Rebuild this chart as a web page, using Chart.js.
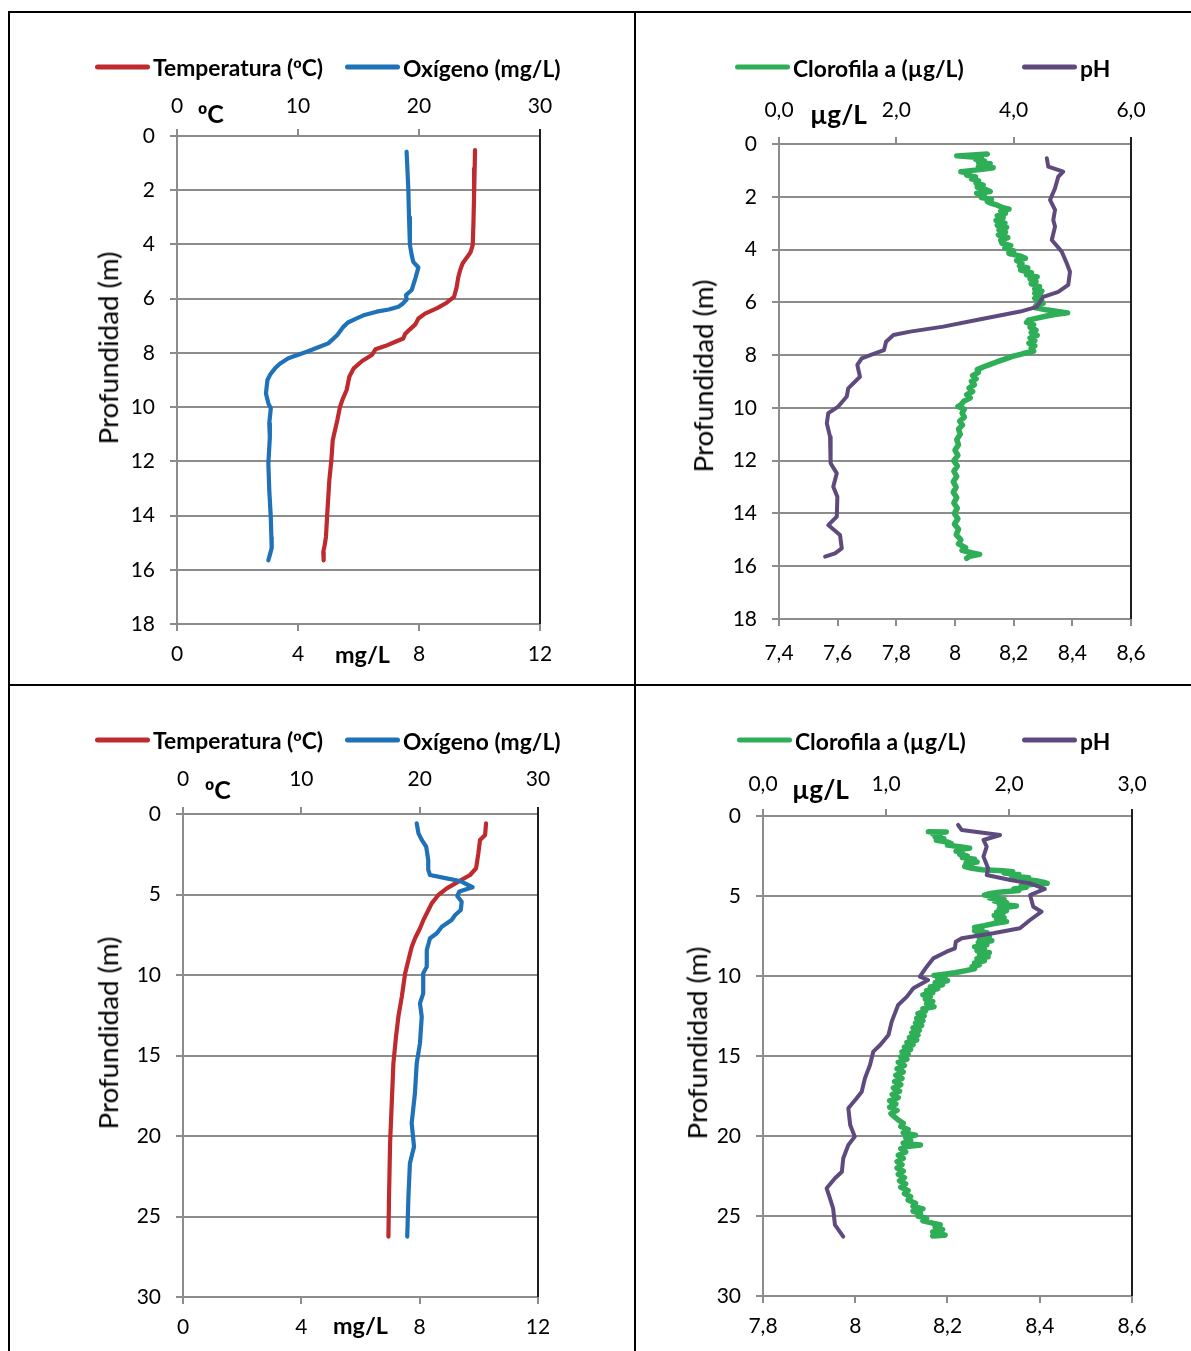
<!DOCTYPE html>
<html><head><meta charset="utf-8">
<script src="https://cdn.jsdelivr.net/npm/chart.js@4.4.1/dist/chart.umd.min.js"></script>
<style>
html,body{margin:0;padding:0;background:#fff;}
body{width:1191px;height:1351px;position:relative;overflow:hidden;font-family:Lato,"Open Sans",sans-serif;color:#000;}
canvas{position:absolute;}
.ln{position:absolute;background:#000;}
.txt{position:absolute;white-space:nowrap;line-height:1;transform:translateY(-50%);}
.bold{font-weight:700;}
.ord{font-family:"Liberation Sans",Arial,sans-serif;}
.legline{position:absolute;height:5px;border-radius:3px;transform:translateY(-50%);}
.ytitle{position:absolute;white-space:nowrap;line-height:1;transform:translate(-50%,-50%) rotate(-90deg);}
</style></head><body>
<div class="ln" style="left:8px;top:11px;width:1183px;height:2px"></div>
<div class="ln" style="left:8px;top:11px;width:2px;height:1340px"></div>
<div class="ln" style="left:634px;top:11px;width:2px;height:1340px"></div>
<div class="ln" style="left:8px;top:684px;width:1183px;height:2px"></div>

<canvas id="c1" width="634" height="684" style="left:0;top:0"></canvas>
<canvas id="c2" width="555" height="684" style="left:636px;top:0"></canvas>
<canvas id="c3" width="634" height="665" style="left:0;top:686px"></canvas>
<canvas id="c4" width="555" height="665" style="left:636px;top:686px"></canvas>

<script>
// ---------------- DATA ----------------
// Panel 1 (upper left): depth (m) and values
const p1TempDepth = [0.52,1.2,2.24,3.2,4.02,4.3,4.45,4.7,4.95,5.2,5.6,5.93,6.15,6.35,6.55,6.73,6.95,7.15,7.3,7.47,7.6,7.75,7.87,8.08,8.3,8.57,8.88,9.37,9.7,9.99,10.48,11.22,12.0,12.69,13.92,14.79,15.1,15.34,15.65];
const p1Temp = [24.63,24.6,24.55,24.5,24.44,24.25,24.0,23.6,23.4,23.25,23.1,22.9,22.29,21.5,20.5,19.95,19.7,19.2,18.85,18.7,18.0,17.2,16.4,16.1,15.3,14.6,14.24,14.02,13.7,13.47,13.25,12.87,12.75,12.59,12.42,12.31,12.2,12.09,12.12];
const p1OxyDepth = [0.58,1.3,2.05,3.0,4.02,4.4,4.64,4.85,5.25,5.68,5.87,6.03,6.2,6.3,6.4,6.48,6.6,6.73,6.88,7.04,7.34,7.65,7.8,7.96,8.2,8.4,8.57,8.8,9.0,9.5,9.86,10.05,10.6,11.1,12.08,13.06,14.05,14.8,15.2,15.45,15.65];
const p1Oxy = [7.59,7.62,7.65,7.67,7.70,7.76,7.81,7.98,7.88,7.76,7.57,7.59,7.45,7.32,7.0,6.6,6.2,5.94,5.65,5.5,5.3,5.0,4.65,4.29,3.68,3.4,3.24,3.08,2.99,2.94,3.02,3.1,3.05,3.07,3.02,3.05,3.1,3.12,3.13,3.07,3.02];

// Panel 2 (upper right)
const p2ChlDepth = [0.38,0.42,0.45,0.48,0.52,0.58,0.64,0.70,0.75,0.80,0.86,0.90,0.95,1.00,1.05,1.10,1.18,1.25,1.32,1.40,1.48,1.56,1.64,1.72,1.80,1.87,1.95,2.03,2.10,2.18,2.25,2.32,2.40,2.47,2.55,2.63,2.72,2.80,2.90,3.00,3.08,3.16,3.26,3.35,3.45,3.55,3.65,3.76,3.85,3.95,4.05,4.15,4.25,4.33,4.42,4.52,4.62,4.70,4.78,4.88,4.96,5.04,5.12,5.22,5.30,5.40,5.50,5.58,5.66,5.75,5.85,5.95,6.04,6.12,6.20,6.28,6.35,6.40,6.46,6.52,6.60,6.68,6.76,6.85,6.95,7.05,7.15,7.25,7.35,7.45,7.55,7.65,7.75,7.85,7.95,8.05,8.15,8.25,8.35,8.45,8.55,8.65,8.78,8.90,9.00,9.12,9.25,9.38,9.50,9.62,9.75,9.88,9.95,10.05,10.20,10.35,10.50,10.65,10.80,11.00,11.20,11.40,11.60,11.80,12.00,12.20,12.40,12.60,12.80,13.00,13.20,13.40,13.60,13.80,14.00,14.20,14.40,14.60,14.80,15.00,15.15,15.30,15.40,15.50,15.55,15.62,15.70];
const p2Chl = [3.55,3.30,3.03,3.25,3.45,3.35,3.50,3.40,3.60,3.45,3.40,3.65,3.50,3.30,3.10,3.25,3.20,3.35,3.28,3.40,3.36,3.48,3.38,3.52,3.60,3.37,3.50,3.45,3.62,3.55,3.62,3.72,3.80,3.92,3.78,3.86,3.72,3.82,3.70,3.85,3.72,3.88,3.75,3.86,3.74,3.90,3.78,3.80,3.95,3.85,4.00,3.92,4.12,4.20,4.05,4.14,4.10,4.24,4.12,4.30,4.22,4.40,4.28,4.38,4.30,4.44,4.36,4.48,4.36,4.46,4.36,4.48,4.50,4.38,4.36,4.55,4.75,4.92,4.70,4.56,4.40,4.25,4.22,4.34,4.28,4.38,4.30,4.40,4.28,4.36,4.26,4.36,4.30,4.34,4.15,3.98,3.85,3.72,3.60,3.48,3.38,3.40,3.30,3.36,3.28,3.33,3.24,3.30,3.20,3.26,3.15,3.10,3.05,3.16,3.12,3.16,3.08,3.13,3.06,3.09,3.03,3.06,3.00,3.05,2.98,3.04,2.98,3.03,2.97,3.02,2.97,3.03,2.98,3.04,2.99,3.05,2.99,3.06,3.02,3.10,3.06,3.18,3.12,3.30,3.42,3.25,3.20];
const p2PhDepth = [0.54,0.86,1.05,1.24,1.68,2.12,2.5,2.88,3.13,3.64,4.08,4.52,4.84,5.34,5.6,5.79,6.17,6.35,6.67,6.92,7.11,7.24,7.49,7.81,7.93,8.12,8.37,8.82,9.26,9.57,9.95,10.2,10.58,11.09,12.1,12.48,12.99,13.37,14.12,14.44,14.82,15.32,15.51,15.64];
const p2Ph = [8.313,8.318,8.369,8.352,8.341,8.324,8.341,8.335,8.341,8.33,8.364,8.381,8.392,8.386,8.352,8.301,8.279,8.222,8.074,7.96,7.847,7.79,7.765,7.758,7.727,7.682,7.667,7.676,7.636,7.631,7.602,7.568,7.563,7.574,7.576,7.597,7.585,7.599,7.597,7.568,7.608,7.614,7.591,7.557];

// Panel 3 (lower left)
const p3TempDepth = [0.58,1.3,1.61,2.44,3.37,3.79,4.2,4.62,5.03,5.55,5.96,6.58,7.1,7.72,8.24,9.07,9.9,11.35,12.59,13.83,15.49,17.97,20.45,23.77,26.25];
const p3Temp = [25.61,25.53,25.1,24.96,24.77,24.26,23.27,22.29,21.58,21.02,20.74,20.32,20.03,19.61,19.33,19.05,18.77,18.49,18.2,18.0,17.78,17.64,17.5,17.41,17.36];
const p3OxyDepth = [0.58,1.2,1.61,2.03,2.86,3.48,3.79,4.0,4.16,4.55,4.82,5.09,5.45,5.96,6.27,6.58,7.0,7.41,7.72,8.45,9.48,9.9,11.14,11.76,12.59,14.24,15.49,17.35,19.21,20.66,21.7,23.77,26.25];
const p3Oxy = [7.9,7.96,8.07,8.22,8.29,8.29,8.35,8.91,9.36,9.79,9.34,9.27,9.42,9.39,9.2,9.08,8.75,8.58,8.35,8.24,8.24,8.12,8.12,8.01,8.07,8.01,7.9,7.84,7.73,7.81,7.67,7.62,7.58];

// Panel 4 (lower right): [depth, value] pairs for chlorophyll
const p4ChlPairs = [[0.98,1.345],[1.00,1.49],[1.04,1.40],[1.12,1.38],[1.22,1.44],[1.32,1.40],[1.42,1.47],[1.52,1.41],[1.62,1.50],[1.72,1.53],
[1.82,1.50],[1.92,1.60],[2.02,1.68],[2.10,1.58],[2.20,1.57],[2.30,1.62],[2.40,1.60],[2.50,1.66],[2.60,1.62],[2.70,1.72],
[2.80,1.66],[2.88,1.74],[2.96,1.65],[3.06,1.70],[3.16,1.64],[3.27,1.70],[3.36,1.78],[3.42,1.95],[3.48,2.03],[3.56,1.96],
[3.66,2.08],[3.76,2.02],[3.86,2.16],[3.95,2.10],[4.05,2.22],[4.14,2.28],[4.21,2.31],[4.28,2.18],[4.36,2.10],[4.46,2.14],
[4.56,2.04],[4.66,2.08],[4.76,1.92],[4.86,1.84],[4.94,1.80],[5.02,1.90],[5.12,1.84],[5.22,1.96],[5.32,1.88],[5.42,1.98],
[5.52,1.92],[5.62,2.06],[5.72,1.96],[5.82,1.92],[5.92,1.98],[6.02,1.90],[6.12,1.95],[6.22,1.88],[6.35,1.96],[6.48,1.90],
[6.60,1.98],[6.72,1.88],[6.85,1.80],[6.96,1.72],[7.06,1.78],[7.18,1.72],[7.30,1.82],[7.42,1.74],[7.55,1.84],[7.68,1.76],
[7.80,1.86],[7.92,1.75],[8.05,1.82],[8.18,1.72],[8.30,1.80],[8.42,1.74],[8.55,1.84],[8.68,1.76],[8.80,1.83],[8.92,1.74],
[9.05,1.80],[9.18,1.72],[9.30,1.76],[9.42,1.70],[9.55,1.72],[9.68,1.64],[9.80,1.56],[9.90,1.46],[9.96,1.39],[10.06,1.48],
[10.18,1.42],[10.30,1.50],[10.42,1.40],[10.55,1.46],[10.68,1.36],[10.80,1.42],[10.92,1.33],[11.05,1.38],[11.18,1.30],[11.30,1.36],
[11.45,1.32],[11.60,1.38],[11.75,1.33],[11.92,1.39],[12.05,1.30],[12.20,1.32],[12.35,1.26],[12.50,1.31],[12.65,1.25],[12.80,1.30],
[12.95,1.24],[13.10,1.29],[13.25,1.22],[13.40,1.27],[13.55,1.21],[13.70,1.26],[13.85,1.19],[14.00,1.25],[14.15,1.17],[14.30,1.22],
[14.45,1.15],[14.60,1.20],[14.75,1.13],[14.90,1.18],[15.05,1.12],[15.20,1.17],[15.40,1.10],[15.60,1.15],[15.80,1.09],[16.00,1.14],
[16.20,1.08],[16.40,1.13],[16.60,1.07],[16.80,1.12],[17.00,1.06],[17.20,1.11],[17.40,1.05],[17.60,1.10],[17.80,1.03],[18.00,1.08],
[18.20,1.03],[18.40,1.09],[18.60,1.04],[18.80,1.07],[19.00,1.10],[19.20,1.14],[19.40,1.12],[19.60,1.18],[19.80,1.14],[19.95,1.24],
[20.10,1.16],[20.30,1.20],[20.45,1.14],[20.56,1.28],[20.65,1.17],[20.80,1.12],[21.00,1.16],[21.20,1.10],[21.40,1.14],[21.60,1.09],
[21.80,1.13],[22.00,1.09],[22.20,1.14],[22.40,1.10],[22.60,1.15],[22.80,1.11],[23.00,1.16],[23.20,1.12],[23.40,1.18],[23.60,1.15],
[23.80,1.20],[24.00,1.18],[24.20,1.24],[24.40,1.22],[24.55,1.30],[24.70,1.22],[24.85,1.28],[25.00,1.26],[25.15,1.33],[25.30,1.30],
[25.45,1.38],[25.55,1.44],[25.70,1.40],[25.85,1.46],[26.00,1.38],[26.10,1.44],[26.20,1.48],[26.25,1.38]];
const p4PhDepth = [0.56,0.88,1.19,1.5,1.92,2.54,3.27,3.69,4.0,4.21,4.56,4.94,5.67,5.98,6.5,7.02,7.33,7.64,7.86,8.27,8.48,8.9,9.42,10.04,10.25,10.77,11.29,11.81,12.85,13.69,14.31,14.73,15.56,16.39,17.23,17.64,18.27,19.31,20.04,20.56,21.39,22.23,22.64,23.27,23.89,24.52,25.56,26.29];
const p4Ph = [8.223,8.231,8.314,8.278,8.285,8.278,8.288,8.285,8.336,8.379,8.411,8.379,8.386,8.404,8.379,8.357,8.299,8.231,8.218,8.216,8.198,8.169,8.155,8.14,8.158,8.126,8.112,8.093,8.079,8.072,8.054,8.039,8.032,8.021,8.014,8.003,7.985,7.989,7.999,7.985,7.974,7.971,7.956,7.938,7.945,7.952,7.956,7.974];

// Labels
const legendTempOxy = ['Temperatura (ºC)', 'Oxígeno (mg/L)'];
const legendChlPh = ['Clorofila a (µg/L)', 'pH'];
const depthTitle = 'Profundidad (m)';

// ---------------- STYLE ----------------
const RED = '#BE2A2D', BLUE = '#1F72B8', GREEN = '#2EAE57', PURPLE = '#5E4A7C';
const GRID = '#8C8C8C';
const FAM = 'Lato, "Open Sans", sans-serif';
const TICK_SIZE = 21;

function pts(depths, vals){ return depths.map((d,i)=>({x: vals[i], y: d})); }
function pairPts(pairs){ return pairs.map(p=>({x: p[1], y: p[0]})); }
const fmtInt = v => String(Math.round(v));
const fmtDec = v => (Math.round(v*10)/10).toFixed(1).replace('.', ',');
const fmtPh = v => { const r = Math.round(v*10)/10; return Number.isInteger(r) ? String(r) : r.toFixed(1).replace('.', ','); };

const rightBorder = {
  id: 'rightBorder',
  afterDraw(chart){
    const a = chart.chartArea, ctx = chart.ctx;
    ctx.save();
    ctx.strokeStyle = '#1E1E1E'; ctx.lineWidth = 2;
    ctx.beginPath(); ctx.moveTo(a.right, a.top - 7); ctx.lineTo(a.right, a.bottom); ctx.stroke();
    ctx.restore();
  }
};

function axisX(pos, min, max, step, fmt, pad, size){
  return {
    type: 'linear', position: pos, min: min, max: max,
    ticks: {stepSize: step, padding: pad, color: '#000', font: {family: FAM, size: TICK_SIZE}, callback: v => fmt(v), maxRotation: 0, autoSkip: false},
    grid: {drawOnChartArea: false, drawTicks: true, tickLength: 7, color: GRID, lineWidth: 2},
    border: {color: GRID, width: 2},
    afterFit(s){ s.height = size; }
  };
}

function makePanel(c){
  const cv = document.getElementById(c.id);
  const W = cv.width, H = cv.height;
  new Chart(cv, {
    type: 'scatter',
    data: {datasets: [
      {label: c.labels[0], data: c.topData, xAxisID: 'xt', yAxisID: 'y', showLine: true, order: 1,
       borderColor: c.colors[0], backgroundColor: c.colors[0], borderWidth: c.widths[0], pointRadius: 0, tension: 0,
       borderCapStyle: 'round', borderJoinStyle: 'round'},
      {label: c.labels[1], data: c.botData, xAxisID: 'xb', yAxisID: 'y', showLine: true, order: 0,
       borderColor: c.colors[1], backgroundColor: c.colors[1], borderWidth: c.widths[1], pointRadius: 0, tension: 0,
       borderCapStyle: 'round', borderJoinStyle: 'round'}
    ]},
    options: {
      responsive: false, animation: false, events: [],
      layout: {padding: {left: 0, top: 0, bottom: 0, right: W - c.R}},
      plugins: {legend: {display: false}, tooltip: {enabled: false}},
      scales: {
        xt: axisX('top', c.top[0], c.top[1], c.top[2], c.topFmt, c.tPad, c.T),
        xb: axisX('bottom', c.bot[0], c.bot[1], c.bot[2], c.botFmt, c.bPad, H - c.B),
        y: {
          type: 'linear', position: 'left', reverse: true, min: 0, max: c.dMax,
          ticks: {stepSize: c.dStep, padding: 15, color: '#000', font: {family: FAM, size: TICK_SIZE}, callback: v => fmtInt(v)},
          grid: {color: GRID, lineWidth: 2, tickLength: 7},
          border: {color: GRID, width: 2},
          afterFit(s){ s.width = c.L; }
        }
      }
    },
    plugins: [rightBorder]
  });
}

makePanel({id: 'c1', L: 177, R: 540, T: 136, B: 624, dMax: 18, dStep: 2,
  top: [0, 30, 10], bot: [0, 12, 4], topFmt: fmtInt, botFmt: fmtInt, tPad: 10, bPad: 11,
  labels: legendTempOxy, colors: [RED, BLUE], widths: [4.2, 4.2],
  topData: pts(p1TempDepth, p1Temp), botData: pts(p1OxyDepth, p1Oxy)});
makePanel({id: 'c2', L: 143, R: 495, T: 144, B: 619, dMax: 18, dStep: 2,
  top: [0, 6, 2], bot: [7.4, 8.6, 0.2], topFmt: fmtDec, botFmt: fmtPh, tPad: 14, bPad: 15,
  labels: legendChlPh, colors: [GREEN, PURPLE], widths: [5.5, 4],
  topData: pts(p2ChlDepth, p2Chl), botData: pts(p2PhDepth, p2Ph)});
makePanel({id: 'c3', L: 183, R: 538, T: 128, B: 611, dMax: 30, dStep: 5,
  top: [0, 30, 10], bot: [0, 12, 4], topFmt: fmtInt, botFmt: fmtInt, tPad: 15, bPad: 11,
  labels: legendTempOxy, colors: [RED, BLUE], widths: [4.2, 4.2],
  topData: pts(p3TempDepth, p3Temp), botData: pts(p3OxyDepth, p3Oxy)});
makePanel({id: 'c4', L: 127, R: 496, T: 130, B: 610, dMax: 30, dStep: 5,
  top: [0, 3, 1], bot: [7.8, 8.6, 0.2], topFmt: fmtDec, botFmt: fmtPh, tPad: 12, bPad: 11,
  labels: legendChlPh, colors: [GREEN, PURPLE], widths: [5.5, 4],
  topData: pairPts(p4ChlPairs), botData: pts(p4PhDepth, p4Ph)});

// ---------------- HTML TEXT OVERLAYS ----------------
function addText(txt, x, cy, cls, size){
  const s = document.createElement('span');
  s.className = 'txt ' + (cls || '');
  // render the ordinal sign with a font whose º carries the underline, as in the original
  txt.split(/(º)/).forEach(part => {
    if (!part) return;
    if (part === 'º') { const o = document.createElement('span'); o.className = 'ord'; o.textContent = part; s.appendChild(o); }
    else s.appendChild(document.createTextNode(part));
  });
  s.style.left = x + 'px'; s.style.top = cy + 'px'; s.style.fontSize = size + 'px';
  document.body.appendChild(s);
  return s;
}
function fitSize(txt, target, bold){
  const ctx = document.createElement('canvas').getContext('2d');
  ctx.font = (bold ? '700 ' : '') + '100px ' + FAM;
  return 100 * target / ctx.measureText(txt).width;
}
function addLegLine(x1, x2, cy, color){
  const d = document.createElement('div');
  d.className = 'legline';
  d.style.left = x1 + 'px'; d.style.width = (x2 - x1) + 'px'; d.style.top = cy + 'px'; d.style.background = color;
  document.body.appendChild(d);
}
const legSize = fitSize(legendTempOxy[0], 171, true);
[67, 740].forEach(cy => {
  addLegLine(95, 150, cy, RED); addText(legendTempOxy[0], 153, cy + 1, 'bold', legSize);
  addLegLine(345, 400, cy, BLUE); addText(legendTempOxy[1], 403, cy + 1, 'bold', legSize);
});
addLegLine(735, 790, 67, GREEN); addText(legendChlPh[0], 793, 68, 'bold', legSize);
addLegLine(1022, 1077, 67, PURPLE); addText(legendChlPh[1], 1080, 68, 'bold', legSize);
addLegLine(737, 792, 740, GREEN); addText(legendChlPh[0], 795, 741, 'bold', legSize);
addLegLine(1022, 1077, 740, PURPLE); addText(legendChlPh[1], 1080, 741, 'bold', legSize);

const mgSize = fitSize('mg/L', 55, true);
const ugSize = fitSize('µg/L', 57, true);
const cSize = 25;
addText('ºC', 198, 114, 'bold', cSize);
addText('mg/L', 335, 655, 'bold', mgSize);
addText('µg/L', 810, 114, 'bold', ugSize);
addText('ºC', 205, 790, 'bold', cSize);
addText('mg/L', 333, 1326, 'bold', mgSize);
addText('µg/L', 792, 789, 'bold', ugSize);

const titleSize = fitSize(depthTitle, 193, false);
[[108, 348], [703, 376], [108, 1033], [697, 1043]].forEach(([cx, cy]) => {
  const s = document.createElement('span');
  s.className = 'ytitle'; s.textContent = depthTitle;
  s.style.left = cx + 'px'; s.style.top = cy + 'px'; s.style.fontSize = titleSize + 'px';
  document.body.appendChild(s);
});
</script>
</body></html>
